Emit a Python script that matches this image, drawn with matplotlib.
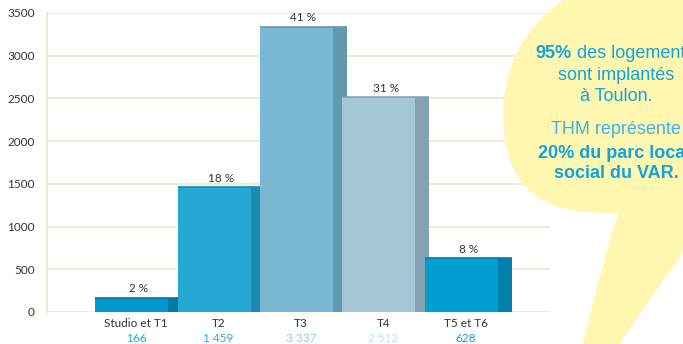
import matplotlib
matplotlib.use("Agg")
import matplotlib.pyplot as plt
from matplotlib.path import Path
from matplotlib.patches import PathPatch
from matplotlib.transforms import blended_transform_factory

categories = ["Studio et T1", "T2", "T3", "T4", "T5 et T6"]
counts = [166, 1459, 3337, 2512, 628]
percents = ["2 %", "18 %", "41 %", "31 %", "8 %"]

front_colors = ["#0098cc", "#27a8d3", "#7ab8d4", "#a4c7d7", "#009dd1"]
side_colors = ["#0079a6", "#1e8ab0", "#6299b0", "#84a2b1", "#0080ab"]
value_colors = ["#22a6de", "#29abe2", "#8ccbea", "#c2e1f1", "#1b9cd8"]

grid_col = "#e6f0d3"
text_col = "#333333"
blue_txt = "#12a4df"

W, H = 683, 344
fig = plt.figure(figsize=(W / 100, H / 100), dpi=100)
fig.patch.set_facecolor("white")

ax = fig.add_axes([47 / W, 32 / H, 503 / W, 299 / H])
ax.set_xlim(-1.11, 4.99)
ax.set_ylim(0, 3500)
ax.set_facecolor("none")
for s in ["top", "right", "bottom"]:
    ax.spines[s].set_visible(False)
ax.spines["left"].set_color(grid_col)
ax.spines["left"].set_linewidth(1.5)
ax.set_yticks(range(0, 3501, 500))
ax.yaxis.grid(True, color=grid_col, linewidth=1.5)
ax.set_axisbelow(True)
ax.tick_params(axis="y", length=0, pad=9, labelsize=8.5, labelcolor=text_col)
ax.tick_params(axis="x", length=0)
ax.set_xticks([])
for lab in ax.get_yticklabels():
    lab.set_family("Lato")

front_w, side_w, start = 0.885, 0.17, -0.527
xs = list(range(len(categories)))
for i, (x, v) in enumerate(zip(xs, counts)):
    ax.bar(x + start, v, width=front_w, align="edge", color=front_colors[i], zorder=2 + i)
    ax.bar(x + start + front_w, v, width=side_w, align="edge", color=side_colors[i], zorder=2 + i)
    # darker top edge
    ax.hlines(v, x + start, x + start + front_w + side_w, color=side_colors[i],
              linewidth=1.2, zorder=2 + i)
    ax.annotate(percents[i], (x, v), xytext=(0, 6.5), textcoords="offset points",
                ha="center", va="center", fontsize=8.5, color=text_col, family="Lato")

trans = blended_transform_factory(ax.transData, ax.transAxes)
for i, x in enumerate(xs):
    ax.text(x - 0.03, -0.037, categories[i], transform=trans, ha="center", va="center",
            fontsize=8.5, color=text_col, family="Lato")
    ax.text(x - 0.03, -0.087, f"{counts[i]:,}".replace(",", " "), transform=trans,
            ha="center", va="center", fontsize=8.5, color=value_colors[i], family="Lato")

# speech bubble (pixel coords, y measured from top)
pts = [(583, 344), (595, 290), (610, 240), (618, 213),
       (540, 215), (503, 190), (503, 110),
       (505, 45), (548, -2), (605, -20),
       (700, -20), (700, 232), (683, 252),
       (660, 285), (635, 320), (620, 344), (583, 344)]
codes = [Path.MOVETO, Path.CURVE4, Path.CURVE4, Path.CURVE4,
         Path.CURVE4, Path.CURVE4, Path.CURVE4,
         Path.CURVE4, Path.CURVE4, Path.CURVE4,
         Path.LINETO, Path.LINETO, Path.LINETO,
         Path.CURVE4, Path.CURVE4, Path.CURVE4, Path.CLOSEPOLY]
verts = [(x / W, 1 - y / H) for x, y in pts]
bubble = PathPatch(Path(verts, codes), transform=fig.transFigure,
                   facecolor="#fff7b0", edgecolor="none", zorder=5)
fig.patches.append(bubble)

fam = ["Liberation Sans Narrow", "Liberation Sans", "DejaVu Sans"]
cx = 616 / W
def ftext(x, y, s, **kw):
    fig.text(x, 1 - y / H, s, va="center", family=fam, fontsize=13, zorder=6, **kw)

# bubble text runs past the right edge, as in the original
ftext(572 / W, 53, "95%", ha="right", weight="bold", color=blue_txt)
ftext(572 / W, 53, " des logements", ha="left", color=blue_txt)
ftext(cx, 75, "sont implantés", ha="center", color=blue_txt)
ftext(cx, 96, "à Toulon.", ha="center", color=blue_txt)
ftext(cx, 130, "THM représente", ha="center", color="#3fb3e6")
ftext(538 / W, 153, "20% du parc locatif", ha="left", weight="bold", color=blue_txt)
ftext(cx, 174, "social du VAR.", ha="center", weight="bold", color=blue_txt)

fig.savefig("out.png", dpi=100)
